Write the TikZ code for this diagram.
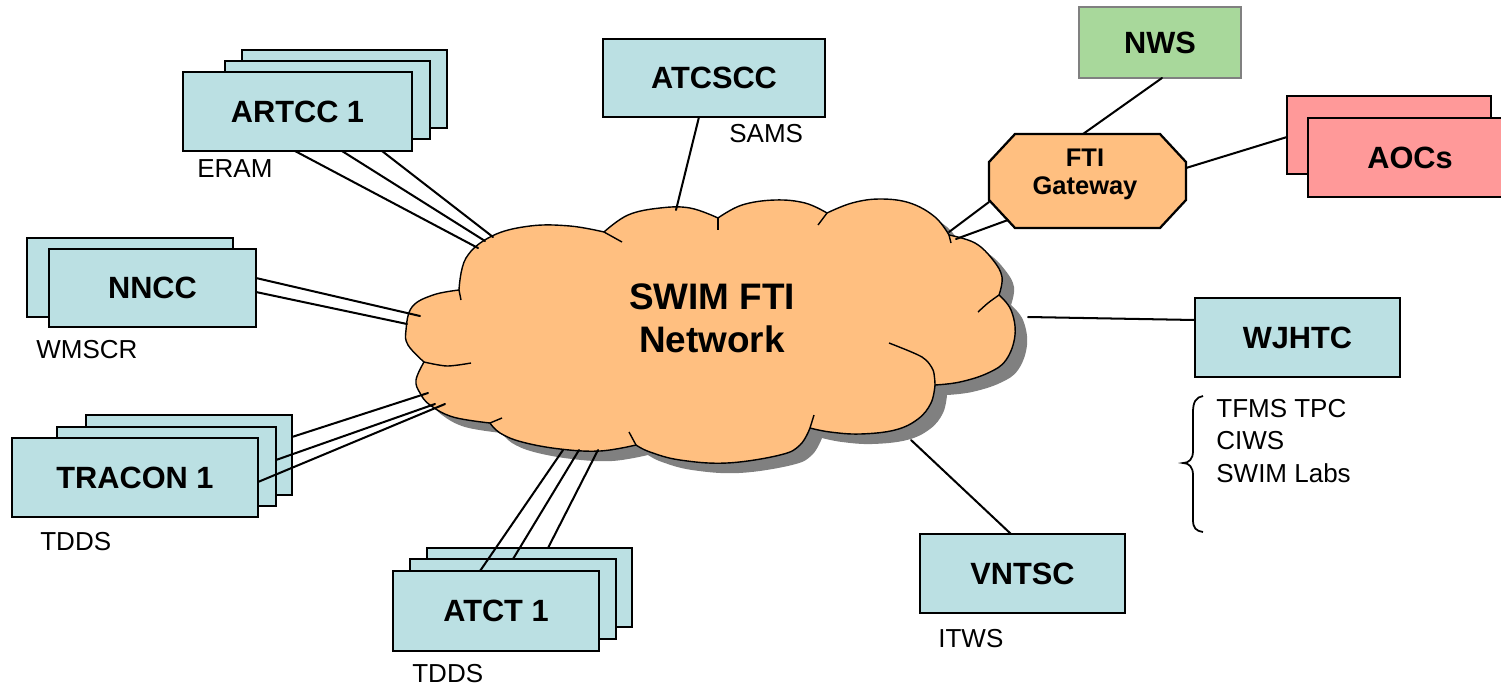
\documentclass[tikz,border=0pt]{standalone}
\usepackage{fontspec}
\setmainfont{Liberation Sans}
\usetikzlibrary{calc}
\definecolor{boxcyan}{RGB}{187,224,227}
\definecolor{cloudorange}{RGB}{255,191,128}
\definecolor{nwsgreen}{RGB}{168,216,155}
\definecolor{nwsborder}{RGB}{128,128,128}
\definecolor{aocspink}{RGB}{255,153,153}
\definecolor{shadowgray}{RGB}{128,128,128}
\newcommand\swimcloud{(459,290)
 -- plot[smooth,tension=0.65] coordinates {(459,290) (466,258) (492,236) (530,226) (570,226) (604,232)}
 -- plot[smooth,tension=0.65] coordinates {(604,232) (628,215) (660,208) (690,208) (718,218)}
 -- plot[smooth,tension=0.65] coordinates {(718,218) (742,205) (775,200) (805,203) (827,213)}
 -- plot[smooth,tension=0.65] coordinates {(827,213) (852,203) (880,199) (910,203) (935,217) (949,235)}
 -- plot[smooth,tension=0.65] coordinates {(949,235) (975,243) (993,260) (1002,277) (999,295)}
 -- plot[smooth,tension=0.65] coordinates {(999,295) (1011,310) (1015,335) (1006,360) (988,373) (960,382) (935,385)}
 -- plot[smooth,tension=0.65] coordinates {(935,385) (931,403) (918,419) (895,430) (860,434) (830,432) (810,428)}
 -- plot[smooth,tension=0.65] coordinates {(810,428) (800,445) (780,455) (727,463) (680,460) (650,452) (636,445)}
 -- plot[smooth,tension=0.65] coordinates {(636,445) (600,451) (560,449) (522,442) (500,433) (490,423)}
 -- plot[smooth,tension=0.65] coordinates {(490,423) (453,417) (430,405) (420,393) (416,380) (424,362)}
 -- plot[smooth,tension=0.65] coordinates {(424,362) (408,345) (406,330) (412,307) (433,295) (459,290)}
 -- cycle}
\begin{document}
\begin{tikzpicture}[x=0.02cm,y=-0.02cm,
  box/.style={draw=black, line width=1.3pt, fill=boxcyan, inner sep=0pt, outer sep=0pt,
    font=\bfseries\fontsize{17.5}{21}\selectfont},
  wire/.style={line width=1.15pt, line cap=round},
  cloudline/.style={line width=0.8pt, line join=round},
  lbl/.style={font=\fontsize{14.8}{18}\selectfont, inner sep=0pt, anchor=base west}]
\useasboundingbox (0,0) rectangle (1501,687);

% ---- boxes ----
\node[box, minimum width=4.10cm, minimum height=1.56cm] (artccC) at (344.5,89) {};
\node[box, minimum width=4.10cm, minimum height=1.56cm] (artccB) at (327.5,100) {};
\node[box, minimum width=4.58cm, minimum height=1.58cm] (artccA) at (297.5,111.5) {ARTCC 1};

\node[box, minimum width=4.44cm, minimum height=1.56cm] (atcscc) at (714,78) {ATCSCC};

\node[box, fill=nwsgreen, draw=nwsborder, minimum width=3.24cm, minimum height=1.42cm] (nws) at (1160,42.5) {NWS};

\node[box, fill=aocspink, minimum width=4.08cm, minimum height=1.56cm] (aocsB) at (1389,135) {};
\node[box, fill=aocspink, minimum width=4.08cm, minimum height=1.58cm] (aocsA) at (1410,157.5) {AOCs};

\node[box, minimum width=4.12cm, minimum height=1.58cm] (nnccB) at (130,277.5) {};
\node[box, minimum width=4.14cm, minimum height=1.56cm] (nnccA) at (152.5,288) {NNCC};

\node[box, minimum width=4.10cm, minimum height=1.58cm] (wjhtc) at (1297.5,337.5) {WJHTC};

\node[box, minimum width=4.12cm, minimum height=1.60cm] (traconC) at (189,455) {};
\node[box, minimum width=4.38cm, minimum height=1.58cm] (traconB) at (166.5,466.5) {};
\node[box, minimum width=4.92cm, minimum height=1.58cm] (traconA) at (135,477.5) {TRACON 1};

\node[box, minimum width=4.10cm, minimum height=1.58cm] (atctC) at (529.5,587.5) {};
\node[box, minimum width=4.12cm, minimum height=1.60cm] (atctB) at (513,599) {};
\node[box, minimum width=4.12cm, minimum height=1.60cm] (atctA) at (496,611) {ATCT 1};

\node[box, minimum width=4.10cm, minimum height=1.58cm] (vntsc) at (1022.5,573.5) {VNTSC};

% ---- FTI gateway (octagon) ----
\node[inner sep=0pt, outer sep=0pt, minimum width=3.94cm, minimum height=1.88cm] (gw) at (1087.5,181) {};
\filldraw[fill=cloudorange, draw=black, line width=1.3pt, line join=miter]
  ([xshift=0.52cm]gw.north west) -- ([xshift=-0.52cm]gw.north east)
  -- ([yshift=-0.56cm]gw.north east) -- ([yshift=0.56cm]gw.south east)
  -- ([xshift=-0.52cm]gw.south east) -- ([xshift=0.52cm]gw.south west)
  -- ([yshift=0.56cm]gw.south west) -- ([yshift=-0.56cm]gw.north west) -- cycle;
\node[align=center, inner sep=0pt, font=\bfseries\fontsize{14.5}{16}\selectfont] (gwtext) at (1085,174) {FTI\\Gateway};

% ---- cloud ----
\fill[shadowgray, shift={(12,10)}] \swimcloud;
\filldraw[fill=cloudorange, draw=black, cloudline] \swimcloud;
\draw[cloudline] (459,290) -- (461,300);
\draw[cloudline] (604,232) -- (622,242);
\draw[cloudline] (718,218) -- (718,230);
\draw[cloudline] (827,213) -- (818,225);
\draw[cloudline] (949,235) -- (951,243);
\draw[cloudline] plot[smooth] coordinates {(999,295) (988,303) (978,312)};
\draw[cloudline] plot[smooth] coordinates {(935,385) (933,370) (922,357) (889,343)};
\draw[cloudline] (810,428) -- (814,415);
\draw[cloudline] (636,445) -- (629,432);
\draw[cloudline] (490,423) -- (502,418);
\draw[cloudline] plot[smooth] coordinates {(424,362) (447,366) (471,363)};
\node[align=center, inner sep=0pt, font=\bfseries\fontsize{21}{24.5}\selectfont] (swim) at (712,318) {SWIM FTI\\Network};

% ---- cloud attachment points ----
\coordinate (ar1) at (478,248);
\coordinate (ar2) at (485,241);
\coordinate (ar3) at (493,237);
\coordinate (nn1) at (420,316);
\coordinate (nn2) at (407,324);
\coordinate (tr1) at (428,393);
\coordinate (tr2) at (435,404);
\coordinate (tr3) at (445,404);
\coordinate (at1) at (563,450);
\coordinate (at2) at (579,450);
\coordinate (at3) at (598,450);
\coordinate (sc) at (676,210);
\coordinate (gc1) at (949,232);
\coordinate (gc2) at (956,239);
\coordinate (wc) at (1028,317);
\coordinate (vc) at (911,440);

% ---- connectors ----
\draw[wire] (artccA.south -| 295,0) -- (ar1);
\draw[wire] (artccA.south -| 342,0) -- (ar2);
\draw[wire] (artccA.south -| 382,0) -- (ar3);
\draw[wire] (nnccA.east |- 0,278) -- (nn1);
\draw[wire] (nnccA.east |- 0,292) -- (nn2);
\draw[wire] (traconC.east |- 0,437) -- (tr1);
\draw[wire] (traconB.east |- 0,460) -- (tr2);
\draw[wire] (traconA.east |- 0,482) -- (tr3);
\draw[wire] (atctA.north -| 480,0) -- (at1);
\draw[wire] (atctB.north -| 513,0) -- (at2);
\draw[wire] (atctC.north -| 548,0) -- (at3);
\draw[wire] (atcscc.south -| 699,0) -- (sc);
\draw[wire] (nws.south -| 1162,0) -- (gw.north -| 1083,0);
\draw[wire] (gw.east |- 0,168) -- (aocsB.west |- 0,137);
\draw[wire] (gw.west |- 0,202) -- (gc1);
\draw[wire] (1008,220) -- (gc2);
\draw[wire] (wc) -- (wjhtc.west |- 0,320);
\draw[wire] (vc) -- (vntsc.north -| 1011,0);

% ---- brace ----
\draw[line width=1pt] (1203,396) .. controls (1196,397) and (1193,402) .. (1193,412)
  -- (1193,451) .. controls (1193,459) and (1189,463) .. (1183,463)
  .. controls (1189,463) and (1193,467) .. (1193,475)
  -- (1193,520) .. controls (1193,528) and (1196,531) .. (1203,532);

% ---- labels ----
\node[lbl] (eram) at (197,177) {ERAM};
\node[lbl] (sams) at (729,142) {SAMS};
\node[lbl] (wmscr) at (36,358) {WMSCR};
\node[lbl] (tdds1) at (40,550) {TDDS};
\node[lbl] (tdds2) at (412,682) {TDDS};
\node[lbl] (itws) at (938,647) {ITWS};
\node[lbl] (tfms) at (1216,417) {TFMS TPC};
\node[lbl] (ciws) at (1216,449) {CIWS};
\node[lbl] (labs) at (1216,482) {SWIM Labs};
\end{tikzpicture}
\end{document}
